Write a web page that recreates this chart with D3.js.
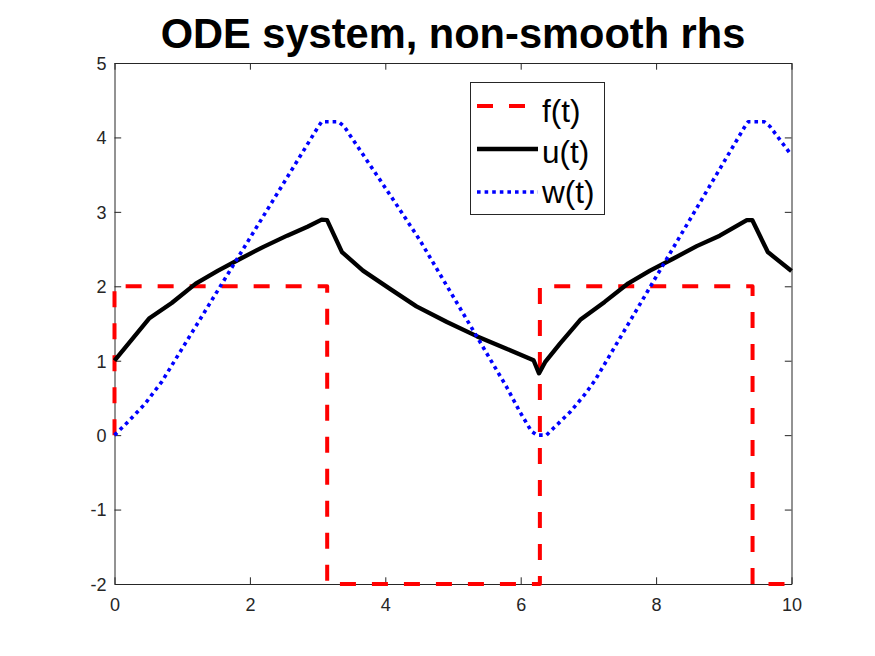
<!DOCTYPE html>
<html><head><meta charset="utf-8">
<script src="https://cdn.jsdelivr.net/npm/d3@7/dist/d3.min.js"></script>
<style>
body{margin:0;background:#fff;}
text{font-family:"Liberation Sans",Arial,Helvetica,sans-serif;}
</style>
</head><body>
<svg id="chart" width="875" height="656"></svg>
<script>
// ---- data ----
const titleText = "ODE system, non-smooth rhs";
const xTicks = [0, 2, 4, 6, 8, 10];
const yTicks = [-2, -1, 0, 1, 2, 3, 4, 5];
const seriesNames = ["f(t)", "u(t)", "w(t)"];

const fT = [0, 0, 3.1416, 3.1416, 6.2832, 6.2832, 9.4248, 9.4248, 10];
const fV = [0, 2, 2, -2, -2, 2, 2, -2, -2];

const uT = [0, 0.51, 0.845, 1.2, 1.53, 1.88, 2.2, 2.55, 2.85, 3.06, 3.14, 3.36, 3.67, 4.07, 4.46, 4.91, 5.35, 5.79, 6.19, 6.27, 6.36, 6.58, 6.88, 7.24, 7.59, 7.91, 8.25, 8.6, 8.94, 9.34, 9.42, 9.65, 10];
const uV = [1, 1.566, 1.775, 2.035, 2.21, 2.38, 2.53, 2.68, 2.8, 2.895, 2.89, 2.46, 2.21, 1.965, 1.73, 1.52, 1.33, 1.16, 1.007, 0.83, 0.98, 1.23, 1.55, 1.79, 2.04, 2.21, 2.37, 2.54, 2.68, 2.89, 2.89, 2.46, 2.205];

const wT = [0, 0.2, 0.45, 0.7, 3.0, 3.06, 3.31, 3.39, 4.12, 4.51, 5.79, 5.99, 6.16, 6.24, 6.38, 6.48, 6.73, 6.95, 7.1, 9.3, 9.36, 9.6, 9.68, 10];
const wV = [0, 0.18, 0.42, 0.72, 4.13, 4.21, 4.21, 4.15, 3.16, 2.62, 0.65, 0.31, 0.05, 0.0, 0.0, 0.09, 0.31, 0.55, 0.74, 4.13, 4.21, 4.21, 4.15, 3.76];

// ---- layout ----
const L = 114.5, R = 791.5, T = 63, B = 584;
const axisColor = "#262626";
const svg = d3.select("#chart");
svg.append("rect").attr("width", 875).attr("height", 656).attr("fill", "#fff");

const x = d3.scaleLinear().domain([0, 10]).range([L, R]);
const y = d3.scaleLinear().domain([-2, 5]).range([B, T]);

const tickLen = 6.7;
const gB = svg.append("g").attr("transform", `translate(0,${B})`)
  .call(d3.axisBottom(x).tickValues(xTicks).tickSizeInner(-tickLen).tickSizeOuter(0).tickPadding(14).tickFormat(d => String(d)));
const gT = svg.append("g").attr("transform", `translate(0,${T})`)
  .call(d3.axisTop(x).tickValues(xTicks).tickSizeInner(-tickLen).tickSizeOuter(0).tickFormat(""));
const gL = svg.append("g").attr("transform", `translate(${L},0)`)
  .call(d3.axisLeft(y).tickValues(yTicks).tickSizeInner(-tickLen).tickSizeOuter(0).tickPadding(8).tickFormat(d => String(d)));
const gR = svg.append("g").attr("transform", `translate(${R},0)`)
  .call(d3.axisRight(y).tickValues(yTicks).tickSizeInner(-tickLen).tickSizeOuter(0).tickFormat(""));
[gB, gT, gL, gR].forEach(g => {
  g.select(".domain").attr("stroke", axisColor).attr("stroke-width", 1);
  g.selectAll(".tick line").attr("stroke", axisColor).attr("stroke-width", 1);
  g.selectAll(".tick text").attr("fill", axisColor).attr("font-size", 18)
    .attr("font-family", '"Liberation Sans",Arial,sans-serif');
});
gB.selectAll(".tick text").attr("dy", "0.71em");
gL.selectAll(".tick text").attr("dy", "0.35em");

// ---- series ----
const line = d3.line().x(d => x(d[0])).y(d => y(d[1]));
const fData = fT.map((t, i) => [t, fV[i]]);
const uData = uT.map((t, i) => [t, uV[i]]);
const wData = wT.map((t, i) => [t, wV[i]]);

const styles = [
  {color: "#ff0000", width: 4, dash: "16,16"},
  {color: "#000000", width: 4.3, dash: null},
  {color: "#0000ff", width: 3.6, dash: "3.6,4"}
];
[fData, uData, wData].forEach((d, i) => {
  svg.append("path").datum(d).attr("d", line)
    .attr("fill", "none").attr("stroke", styles[i].color)
    .attr("stroke-width", styles[i].width)
    .attr("stroke-linejoin", "round")
    .attr("stroke-dasharray", styles[i].dash);
});

// ---- legend ----
const lg = svg.append("g");
lg.append("rect").attr("x", 470.5).attr("y", 82.5).attr("width", 134).attr("height", 132)
  .attr("fill", "#fff").attr("stroke", axisColor).attr("stroke-width", 1);
const rowY = [106, 149, 192];
const textY = [122, 162.5, 203];
seriesNames.forEach((name, i) => {
  lg.append("line").attr("x1", 477).attr("x2", 538).attr("y1", rowY[i]).attr("y2", rowY[i])
    .attr("stroke", styles[i].color).attr("stroke-width", styles[i].width)
    .attr("stroke-dasharray", styles[i].dash);
  lg.append("text").attr("x", 542).attr("y", textY[i]).attr("font-size", 31.5)
    .attr("fill", "#000").text(name);
});

// ---- title ----
svg.append("text").attr("x", (L + R) / 2).attr("y", 48).attr("text-anchor", "middle")
  .attr("font-size", 41.6).attr("font-weight", "bold").attr("fill", "#000").text(titleText);
</script>
</body></html>
